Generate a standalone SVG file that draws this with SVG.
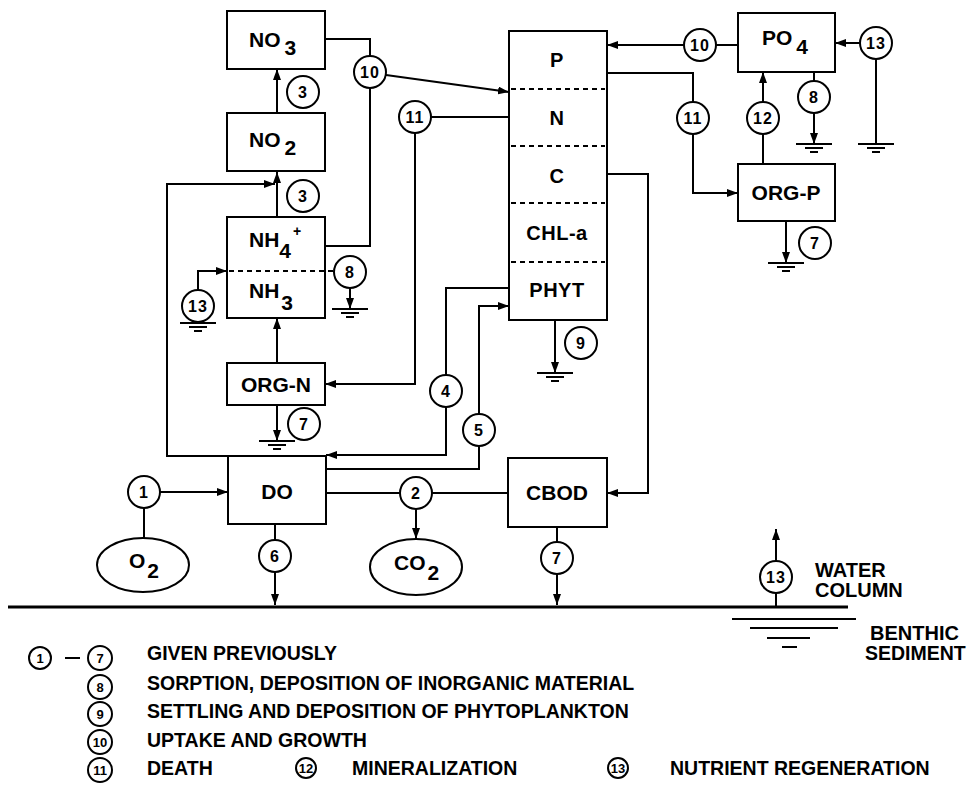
<svg xmlns="http://www.w3.org/2000/svg" width="969" height="789" viewBox="0 0 969 789">
<style>
text{font-family:"Liberation Sans",Arial,Helvetica,sans-serif;font-weight:bold;fill:#000}
.box{fill:#fff;stroke:#000;stroke-width:2}
.lbl{font-size:21px}
.col{font-size:20px;text-anchor:middle;letter-spacing:0.5px}
.num circle,.cn{fill:#fff;stroke:#000;stroke-width:2}
.cnum{font-size:16px;text-anchor:middle;letter-spacing:1px}
.lnum{font-size:13px;text-anchor:middle}
.leg{font-size:19.5px}
.ln{fill:none;stroke:#000;stroke-width:2}
.dash{fill:none;stroke:#000;stroke-width:2;stroke-dasharray:5,4}
.arr{marker-end:url(#ah)}
</style>
<defs>
<marker id="ah" markerUnits="userSpaceOnUse" markerWidth="11" markerHeight="8" refX="11" refY="4" orient="auto">
<path d="M0,0 L11,4 L0,8 z" fill="#000"/>
</marker>
<g id="gnd">
<path d="M-18,0 H18 M-9,4 H9 M-4,8 H4" stroke="#000" stroke-width="2" fill="none"/>
</g>
</defs>

<g id="connectors">
<path class="ln arr" d="M277,113 V69"/>
<path class="ln arr" d="M277,217 V172"/>
<path class="ln arr" d="M228,456 H167 V184 H275"/>
<path class="ln" d="M325,39 H370 V56"/>
<path class="ln" d="M325,246 H370 V88"/>
<path class="ln arr" d="M386,75 L509,92"/>
<path class="ln" d="M509,117 H431"/>
<path class="ln arr" d="M415,133 V384 H325"/>
<path class="ln arr" d="M198,290 V271 H227"/>
<path class="ln arr" d="M350,288 V309"/>
<path class="ln arr" d="M277,363 V318"/>
<path class="ln arr" d="M277,405 V441"/>
<path class="ln" d="M509,288 H446 V375"/>
<path class="ln arr" d="M446,407 V455 H326"/>
<path class="ln" d="M326,469 H479 V446"/>
<path class="ln arr" d="M479,414 V306 H509"/>
<path class="ln arr" d="M555,320 V373"/>
<path class="ln arr" d="M684,45 H607"/>
<path class="ln" d="M738,45 H716"/>
<path class="ln" d="M607,73 H693 V102"/>
<path class="ln arr" d="M693,134 V193 H738"/>
<path class="ln arr" d="M607,174 H648 V493 H607"/>
<path class="ln arr" d="M860,43 H835"/>
<path class="ln" d="M876,59 V144"/>
<path class="ln" d="M814,72 V81"/>
<path class="ln arr" d="M814,113 V144"/>
<path class="ln" d="M763,164 V134"/>
<path class="ln arr" d="M763,102 V72"/>
<path class="ln arr" d="M786,221 V263"/>
<path class="ln arr" d="M160,492 H228"/>
<path class="ln" d="M144,538 V508"/>
<path class="ln" d="M326,493 H400"/>
<path class="ln" d="M432,493 H508"/>
<path class="ln arr" d="M416,509 V539"/>
<path class="ln" d="M275,524 V540"/>
<path class="ln arr" d="M275,572 V605"/>
<path class="ln" d="M557,527 V542"/>
<path class="ln arr" d="M557,574 V605"/>
<path class="ln" d="M776,607 V593"/>
<path class="ln arr" d="M776,561 V529"/>
<use href="#gnd" x="350" y="309"/>
<use href="#gnd" x="198" y="323"/>
<use href="#gnd" x="277" y="441"/>
<use href="#gnd" x="555" y="373"/>
<use href="#gnd" x="876" y="144"/>
<use href="#gnd" x="814" y="144"/>
<use href="#gnd" x="786" y="263"/>
</g>

<g id="interface">
<path d="M8,607 H848" stroke="#000" stroke-width="3" fill="none"/>
<path d="M732,619 H856 M750,628 H838 M767,638 H810 M782,647 H797" stroke="#000" stroke-width="2" fill="none"/>
<text x="815" y="577" style="font-size:20px">WATER</text>
<text x="815" y="597" style="font-size:20px">COLUMN</text>
<text x="870" y="640" style="font-size:20px">BENTHIC</text>
<text x="865" y="660" style="font-size:19.5px">SEDIMENT</text>
</g>

<g id="NO3"><rect class="box" x="227" y="11" width="98" height="58"/><text class="lbl" x="249" y="47">NO<tspan dx="4" dy="8">3</tspan></text></g>
<g id="NO2"><rect class="box" x="227" y="113" width="98" height="58"/><text class="lbl" x="249" y="147">NO<tspan dx="4" dy="8">2</tspan></text></g>
<g id="NH4-NH3"><rect class="box" x="227" y="217" width="98" height="101"/>
<path class="dash" d="M229,271 H334"/>
<text class="lbl" x="249" y="247">NH<tspan dy="11">4</tspan></text>
<text x="293" y="236" style="font-size:14px">+</text>
<text class="lbl" x="249" y="298">NH<tspan dx="2" dy="12">3</tspan></text></g>
<g id="ORG-N"><rect class="box" x="227" y="363" width="98" height="42"/><text class="lbl" x="276" y="392" text-anchor="middle">ORG-N</text></g>
<g id="DO"><rect class="box" x="228" y="456" width="98" height="68"/><text class="lbl" x="277" y="499" text-anchor="middle">DO</text></g>
<g id="CBOD"><rect class="box" x="508" y="458" width="99" height="69"/><text class="lbl" x="557" y="500" text-anchor="middle">CBOD</text></g>
<g id="O2"><ellipse class="box" cx="143" cy="565" rx="46" ry="27"/><text class="lbl" x="129" y="568">O<tspan dx="2" dy="10">2</tspan></text></g>
<g id="CO2"><ellipse class="box" cx="416" cy="567" rx="46" ry="28"/><text class="lbl" x="394" y="570">CO<tspan dx="2" dy="10">2</tspan></text></g>
<g id="PHYTO"><rect class="box" x="509" y="31" width="98" height="289"/>
<path class="dash" d="M511,89 H605 M511,146 H605 M511,203 H605 M511,262 H605"/>
<text class="col" x="557" y="67">P</text>
<text class="col" x="557" y="125">N</text>
<text class="col" x="557" y="183">C</text>
<text class="col" x="557" y="240">CHL-a</text>
<text class="col" x="557" y="297">PHYT</text></g>
<g id="PO4"><rect class="box" x="738" y="13" width="97" height="59"/><text class="lbl" x="762" y="45">PO<tspan dx="4" dy="9">4</tspan></text></g>
<g id="ORG-P"><rect class="box" x="738" y="164" width="97" height="57"/><text class="lbl" x="786" y="200" text-anchor="middle">ORG-P</text></g>

<g id="c10a"><circle class="cn" cx="370" cy="72" r="16"/><text class="cnum" x="370" y="78">10</text></g>
<g id="c3a"><circle class="cn" cx="303" cy="92" r="16"/><text class="cnum" x="303" y="98">3</text></g>
<g id="c3b"><circle class="cn" cx="303" cy="196" r="16"/><text class="cnum" x="303" y="202">3</text></g>
<g id="c11a"><circle class="cn" cx="415" cy="117" r="16"/><text class="cnum" x="415" y="123">11</text></g>
<g id="c8a"><circle class="cn" cx="350" cy="272" r="16"/><text class="cnum" x="350" y="278">8</text></g>
<g id="c13a"><circle class="cn" cx="198" cy="306" r="16"/><text class="cnum" x="198" y="312">13</text></g>
<g id="c7a"><circle class="cn" cx="304" cy="424" r="16"/><text class="cnum" x="304" y="430">7</text></g>
<g id="c4"><circle class="cn" cx="446" cy="391" r="16"/><text class="cnum" x="446" y="397">4</text></g>
<g id="c5"><circle class="cn" cx="479" cy="430" r="16"/><text class="cnum" x="479" y="436">5</text></g>
<g id="c9"><circle class="cn" cx="581" cy="343" r="16"/><text class="cnum" x="581" y="349">9</text></g>
<g id="c10b"><circle class="cn" cx="700" cy="45" r="16"/><text class="cnum" x="700" y="51">10</text></g>
<g id="c11b"><circle class="cn" cx="693" cy="118" r="16"/><text class="cnum" x="693" y="124">11</text></g>
<g id="c13b"><circle class="cn" cx="876" cy="43" r="16"/><text class="cnum" x="876" y="49">13</text></g>
<g id="c8b"><circle class="cn" cx="814" cy="97" r="16"/><text class="cnum" x="814" y="103">8</text></g>
<g id="c12"><circle class="cn" cx="763" cy="118" r="16"/><text class="cnum" x="763" y="124">12</text></g>
<g id="c7b"><circle class="cn" cx="815" cy="243" r="16"/><text class="cnum" x="815" y="249">7</text></g>
<g id="c1"><circle class="cn" cx="144" cy="492" r="16"/><text class="cnum" x="144" y="498">1</text></g>
<g id="c2"><circle class="cn" cx="416" cy="493" r="16"/><text class="cnum" x="416" y="499">2</text></g>
<g id="c6"><circle class="cn" cx="275" cy="556" r="16"/><text class="cnum" x="275" y="562">6</text></g>
<g id="c7c"><circle class="cn" cx="557" cy="558" r="16"/><text class="cnum" x="557" y="564">7</text></g>
<g id="c13c"><circle class="cn" cx="776" cy="577" r="16"/><text class="cnum" x="776" y="583">13</text></g>

<g id="legend">
<circle class="cn" cx="40" cy="658" r="11"/><text class="lnum" x="40" y="663">1</text>
<path class="ln" d="M65,658 H80"/>
<circle class="cn" cx="100" cy="658" r="12"/><text class="lnum" x="100" y="663">7</text>
<circle class="cn" cx="100" cy="687" r="12"/><text class="lnum" x="100" y="692">8</text>
<circle class="cn" cx="100" cy="714" r="12"/><text class="lnum" x="100" y="719">9</text>
<circle class="cn" cx="100" cy="742" r="12"/><text class="lnum" x="100" y="747">10</text>
<circle class="cn" cx="100" cy="770" r="12"/><text class="lnum" x="100" y="775">11</text>
<text class="leg" x="147" y="660">GIVEN PREVIOUSLY</text>
<text class="leg" x="147" y="690">SORPTION, DEPOSITION OF INORGANIC MATERIAL</text>
<text class="leg" x="147" y="718">SETTLING AND DEPOSITION OF PHYTOPLANKTON</text>
<text class="leg" x="147" y="747">UPTAKE AND GROWTH</text>
<text class="leg" x="147" y="775">DEATH</text>
<circle class="cn" cx="306" cy="768" r="10"/><text class="lnum" x="306" y="773">12</text>
<text class="leg" x="352" y="775">MINERALIZATION</text>
<circle class="cn" cx="618" cy="768" r="10"/><text class="lnum" x="618" y="773">13</text>
<text class="leg" x="670" y="775">NUTRIENT REGENERATION</text>
</g>
</svg>
